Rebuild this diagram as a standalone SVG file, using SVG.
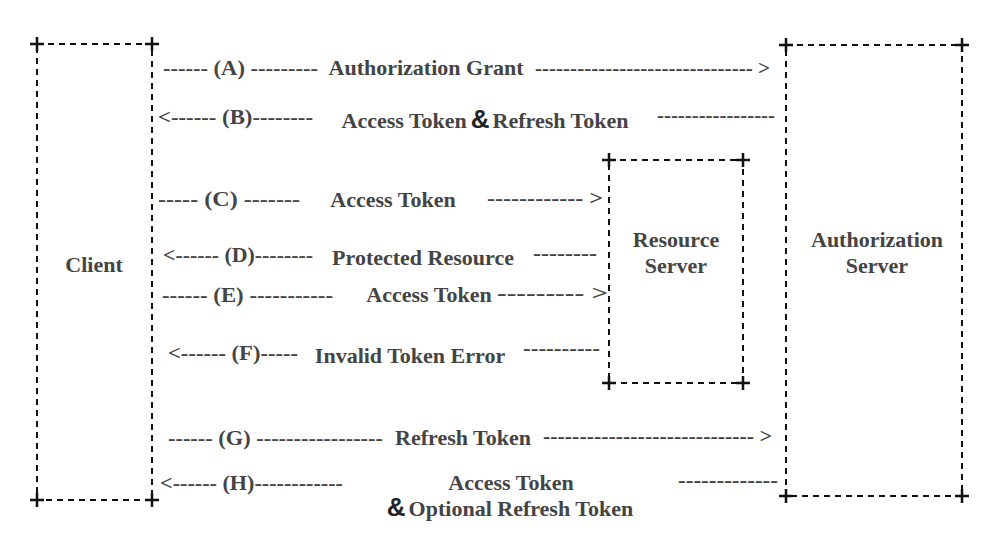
<svg xmlns="http://www.w3.org/2000/svg" width="1008" height="538" viewBox="0 0 1008 538">
<style>
.bg{fill:#ffffff}
.box{fill:none;stroke:#111;stroke-width:2;stroke-dasharray:6 5}
.plus{stroke:#111;stroke-width:2.5;fill:none}
.t{font-family:'Liberation Serif','Times New Roman',serif;font-weight:bold;font-size:22px;fill:#444}
.c{text-anchor:middle}
.amp{font-family:'Liberation Sans',Arial,sans-serif;font-size:26px;fill:#222}
</style>
<defs>
<path id="plus" class="plus" d="M-7,0H7M0,-7V7"/>
</defs>
<rect class="bg" x="0" y="0" width="1008" height="538"/>
<g id="client">
<rect class="box" x="37" y="44" width="115" height="456"/>
<use href="#plus" x="37" y="44"/><use href="#plus" x="152" y="44"/>
<use href="#plus" x="37" y="500"/><use href="#plus" x="152" y="500"/>
<text class="t c" x="94" y="272">Client</text>
</g>
<g id="resource-server">
<rect class="box" x="609" y="160" width="134" height="223"/>
<use href="#plus" x="609" y="160"/><use href="#plus" x="743" y="160"/>
<use href="#plus" x="609" y="383"/><use href="#plus" x="743" y="383"/>
<text class="t c" x="676" y="247">Resource</text>
<text class="t c" x="676" y="273">Server</text>
</g>
<g id="authorization-server">
<rect class="box" x="786" y="45" width="176" height="451"/>
<use href="#plus" x="786" y="45"/><use href="#plus" x="962" y="45"/>
<use href="#plus" x="786" y="496"/><use href="#plus" x="962" y="496"/>
<text class="t c" x="877" y="247">Authorization</text>
<text class="t c" x="877" y="273">Server</text>
</g>
<g id="connectors" class="t">
<text x="163" y="75" textLength="155" lengthAdjust="spacingAndGlyphs">------ (A) ---------</text>
<text class="c" x="426" y="75">Authorization Grant</text>
<text x="535" y="75" textLength="235" lengthAdjust="spacingAndGlyphs">------------------------------- &gt;</text>

<text x="158" y="124" textLength="155" lengthAdjust="spacingAndGlyphs">&lt;------ (B)--------</text>
<text class="c" x="485" y="128">Access Token<tspan class="amp" dx="4">&amp;</tspan><tspan dx="3">Refresh Token</tspan></text>
<text x="657" y="122" textLength="118" lengthAdjust="spacingAndGlyphs">-----------------</text>

<text x="158" y="206" textLength="142" lengthAdjust="spacingAndGlyphs">----- (C) -------</text>
<text class="c" x="393" y="207">Access Token</text>
<text x="487" y="205" textLength="116" lengthAdjust="spacingAndGlyphs">------------ &gt;</text>

<text x="163" y="262" textLength="150" lengthAdjust="spacingAndGlyphs">&lt;------ (D)--------</text>
<text class="c" x="423" y="265">Protected Resource</text>
<text x="533" y="260" textLength="64" lengthAdjust="spacingAndGlyphs">--------</text>

<text x="162" y="302" textLength="171" lengthAdjust="spacingAndGlyphs">------ (E) -----------</text>
<text class="c" x="429" y="302">Access Token</text>
<text x="497" y="300" textLength="111" lengthAdjust="spacingAndGlyphs">--------- &gt;</text>

<text x="168" y="360" textLength="130" lengthAdjust="spacingAndGlyphs">&lt;------ (F)-----</text>
<text class="c" x="410" y="363">Invalid Token Error</text>
<text x="523" y="355" textLength="77" lengthAdjust="spacingAndGlyphs">----------</text>

<text x="168" y="445" textLength="215" lengthAdjust="spacingAndGlyphs">------ (G) -----------------</text>
<text class="c" x="463" y="445">Refresh Token</text>
<text x="543" y="443" textLength="229" lengthAdjust="spacingAndGlyphs">----------------------------- &gt;</text>

<text x="160" y="490" textLength="183" lengthAdjust="spacingAndGlyphs">&lt;------ (H)------------</text>
<text class="c" x="511" y="490">Access Token</text>
<text class="c" x="510" y="516"><tspan class="amp">&amp;</tspan><tspan dx="3">Optional Refresh Token</tspan></text>
<text x="678" y="487" textLength="100" lengthAdjust="spacingAndGlyphs">-------------</text>
</g>
</svg>
